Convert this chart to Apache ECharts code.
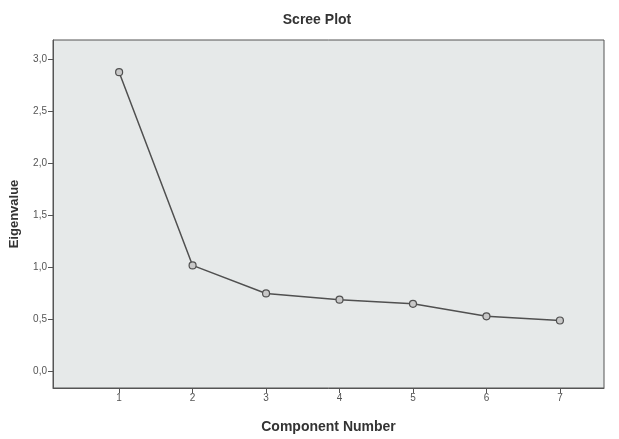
<!DOCTYPE html>
<html>
<head>
<meta charset="utf-8">
<script src="https://cdn.jsdelivr.net/npm/echarts@6/dist/echarts.min.js"></script>
<style>
  html, body { margin: 0; padding: 0; background: #fff; }
  #main { width: 619px; height: 439px; }
</style>
</head>
<body>
<div id="main"></div>
<script>
// component numbers and eigenvalues
var components = [1, 2, 3, 4, 5, 6, 7];
var eigenvalues = [2.88, 1.02, 0.75, 0.69, 0.65, 0.53, 0.49];
var yTicks = [0, 0.5, 1, 1.5, 2, 2.5, 3];

var chart = echarts.init(document.getElementById('main'));

var points = components.map(function (c, i) { return [c, eigenvalues[i]]; });

chart.setOption({
    backgroundColor: '#fff',
    animation: false,
    title: {
        text: 'Scree Plot',
        left: 312,
        textAlign: 'center',
        top: 8,
        textStyle: { fontFamily: 'Liberation Sans', fontSize: 14, fontWeight: 'bold', color: '#333' }
    },
    grid: {
        left: 52, right: 15, top: 40, bottom: 48,
        show: true,
        backgroundColor: '#e6e9e9',
        borderColor: '#555',
        borderWidth: 1
    },
    xAxis: {
        type: 'value',
        min: 0.1,
        max: 7.6,
        name: 'Component Number',
        nameLocation: 'middle',
        nameGap: 32,
        nameTextStyle: { fontFamily: 'Liberation Sans', fontSize: 14, fontWeight: 'bold', color: '#333' },
        splitLine: { show: false },
        axisLine: { onZero: false, lineStyle: { color: '#555' } },
        axisTick: { customValues: components, length: 5, lineStyle: { color: '#555' } },
        axisLabel: { customValues: components, fontSize: 10, color: '#555', margin: 5 }
    },
    yAxis: {
        type: 'value',
        min: -0.16,
        max: 3.19,
        name: 'Eigenvalue',
        nameLocation: 'middle',
        nameGap: 32,
        nameTextStyle: { fontFamily: 'Liberation Sans', fontSize: 13, fontWeight: 'bold', color: '#333' },
        splitLine: { show: false },
        axisLine: { show: true, onZero: false, lineStyle: { color: '#555' } },
        axisTick: { show: true, customValues: yTicks, length: 5, lineStyle: { color: '#555' } },
        axisLabel: {
            customValues: yTicks, fontSize: 10, color: '#555', margin: 6,
            formatter: function (v) { return v.toFixed(1).replace('.', ','); }
        }
    },
    series: [{
        type: 'line',
        data: points,
        symbol: 'circle',
        symbolSize: 7,
        lineStyle: { color: '#505050', width: 1.5 },
        itemStyle: { color: '#c8c8c8', borderColor: '#505050', borderWidth: 1.2 }
    }]
});
</script>
</body>
</html>
